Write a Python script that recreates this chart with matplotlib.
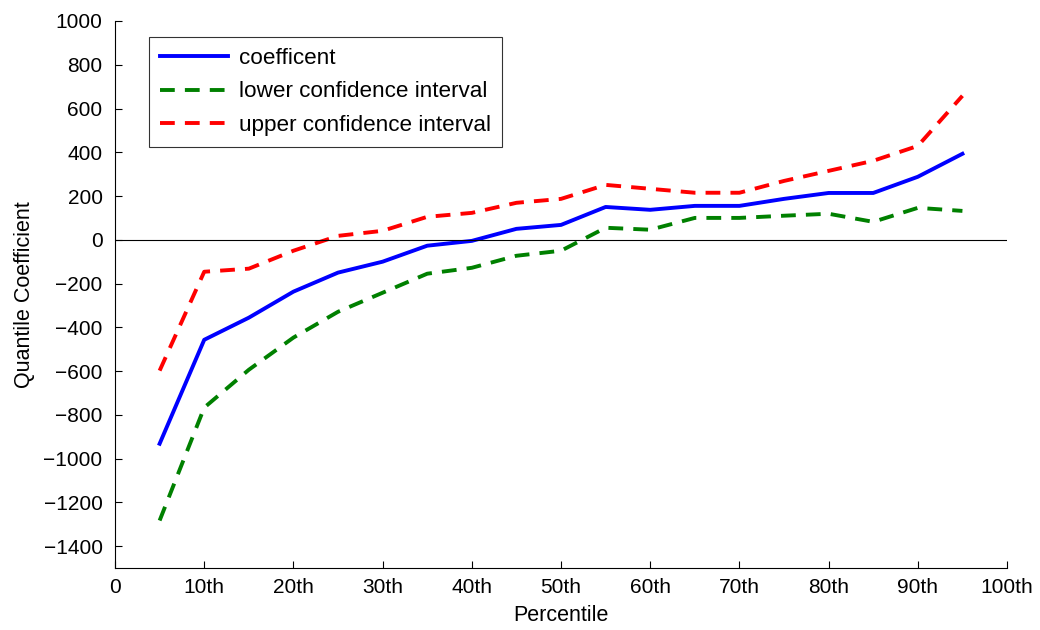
import numpy as np
import matplotlib
matplotlib.use("Agg")
import matplotlib.pyplot as plt

plt.rcParams['font.family'] = ['Liberation Sans', 'DejaVu Sans']

# percentile positions and values
pct = [5, 10, 15, 20, 25, 30, 35, 40, 45, 50, 55, 60, 65, 70, 75, 80, 85, 90, 95]
coef = [-932, -457, -356, -237, -150, -100, -27, -5, 50, 68, 150, 137, 155, 155, 187, 214, 214, 288, 393]
lower = [-1283, -767, -594, -447, -329, -242, -155, -128, -73, -50, 55, 46, 100, 100, 110, 119, 82, 146, 132]
upper = [-598, -146, -132, -50, 18, 41, 105, 123, 169, 187, 251, 233, 215, 215, 269, 315, 361, 429, 658]

xticks = [0, 10, 20, 30, 40, 50, 60, 70, 80, 90, 100]
xticklabels = ['0', '10th', '20th', '30th', '40th', '50th', '60th', '70th', '80th', '90th', '100th']
yticks = list(range(-1400, 1001, 200))

fig = plt.figure(figsize=(10.4, 6.3), dpi=100)
ax = fig.add_axes([0.1106, 0.0984, 0.8577, 0.8683])

dash = (0, (3.8, 2.6))
ax.plot(pct, coef, color='#0000ff', lw=2.8, label='coefficent')
ax.plot(pct, lower, color='#008000', lw=2.8, ls=dash, label='lower confidence interval')
ax.plot(pct, upper, color='#ff0000', lw=2.8, ls=dash, label='upper confidence interval')
ax.axhline(0, color='black', lw=0.8)

ax.set_xlim(0, 100)
ax.set_ylim(-1500, 1000)
ax.set_xticks(xticks)
ax.set_xticklabels(xticklabels)
ax.set_yticks(yticks)
ax.set_yticklabels([str(v).replace('-', '\u2212') for v in yticks])
ax.tick_params(direction='in', length=5, labelsize=15, width=0.8)
ax.tick_params(axis='y', pad=9)
ax.tick_params(axis='x', pad=7)
ax.spines['top'].set_visible(False)
ax.spines['right'].set_visible(False)
ax.set_xlabel('Percentile', fontsize=15.5, labelpad=6)
ax.set_ylabel('Quantile Coefficient', fontsize=15.5, labelpad=6)

leg = ax.legend(loc='upper left', bbox_to_anchor=(0.038, 0.971), fontsize=16.2,
                frameon=True, fancybox=False, edgecolor='black', handlelength=3.0,
                borderpad=0.5, labelspacing=0.55, handletextpad=0.5, borderaxespad=0)
leg.get_frame().set_linewidth(0.8)

fig.savefig('out.png', dpi=100)
